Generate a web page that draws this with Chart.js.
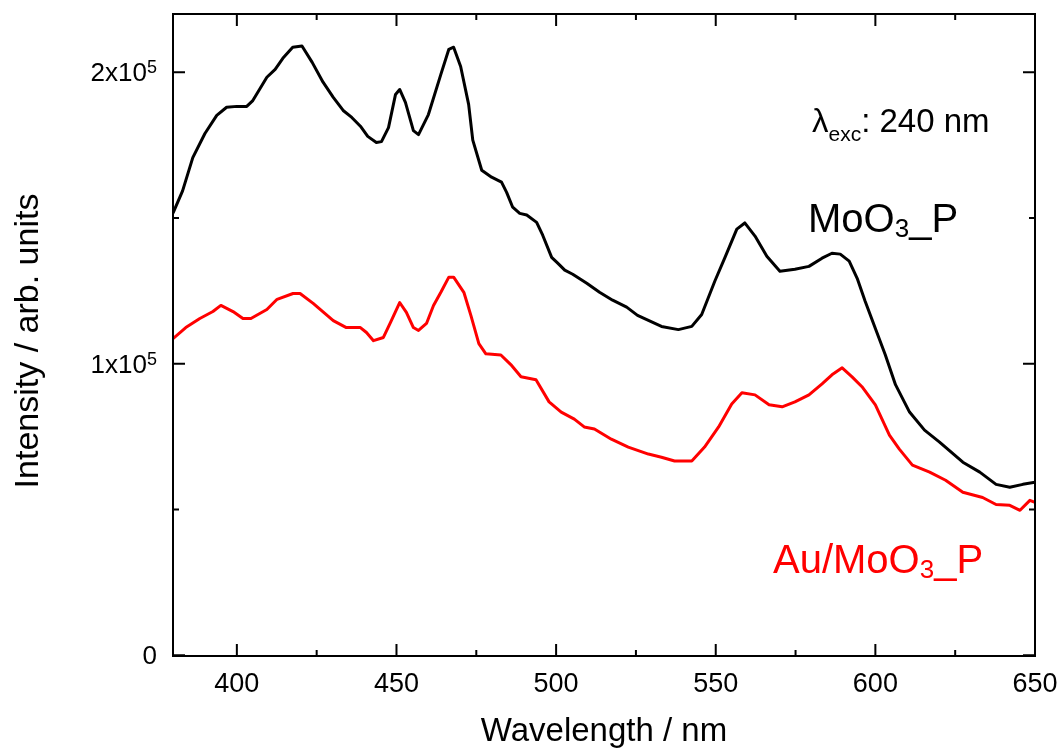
<!DOCTYPE html>
<html>
<head>
<meta charset="utf-8">
<script src="https://cdn.jsdelivr.net/npm/chart.js@4"></script>
<style>
  body { margin: 0; background: #fff; }
  canvas { display: block; }
</style>
</head>
<body>
<canvas id="myChart" width="1062" height="753"></canvas>
<script>
// MoO3_P (black)
const wlMoO3 = [380, 383, 386.2, 390, 393.7, 396.8, 400, 403.1, 405, 409.4, 412, 414.4, 417.5, 420.4, 423.6, 427, 430.2, 433.3, 436, 438.7, 441, 443.7, 445.3, 447.5, 449.7, 451, 452.8, 455.3, 456.9, 460, 463.9, 466.4, 467.9, 470.1, 472.6, 473.9, 476.7, 479.8, 482.9, 484.5, 486.4, 488.6, 490.8, 493.9, 495.8, 498.6, 500.5, 502.7, 505.2, 509.6, 513.6, 517.7, 522.1, 525.5, 533, 538.3, 542.5, 545.6, 549.7, 552.8, 556.6, 559.1, 562.3, 566, 570.1, 574.8, 579.2, 583.3, 586.4, 589, 591.8, 594.3, 596.8, 600, 603.1, 606.3, 610.7, 615.4, 620.1, 627.4, 632.7, 637.8, 642.1, 646.2, 650];
const intMoO3 = [151.7, 159.3, 170.7, 179, 185.2, 188.0, 188.3, 188.3, 190.3, 198.3, 201, 204.8, 208.6, 209, 203.4, 196.6, 191.4, 186.9, 184.5, 181.5, 178, 175.9, 176.2, 181, 192.4, 194.1, 189.7, 180, 178.6, 185.5, 199.3, 207.9, 208.6, 202, 189, 176.7, 166.4, 164, 162.3, 158.8, 153.7, 151.6, 151, 148.5, 144.1, 136.5, 134.5, 132.1, 130.7, 127.6, 124.5, 121.8, 119.4, 116.6, 112.8, 111.7, 112.8, 116.9, 128.3, 136.2, 146.2, 148.3, 143.8, 136.9, 131.7, 132.4, 133.4, 136.2, 137.9, 137.6, 135.2, 129.3, 121.4, 112.1, 103.1, 92.8, 83.4, 77.2, 73.1, 66.2, 62.8, 58.6, 57.6, 58.6, 59.3];

// Au/MoO3_P (red)
const wlAu = [380, 384, 388.4, 392.5, 395, 398.8, 401.9, 404.4, 409.4, 412.6, 417.6, 419.8, 423.9, 430.2, 434.3, 438.7, 440.6, 442.8, 445.9, 448.1, 451, 453.1, 455.3, 456.9, 459.4, 461.6, 463.9, 466.4, 467.9, 471.1, 473.3, 475.8, 478, 482.7, 485.8, 489, 493.7, 497.8, 501.6, 505.7, 508.8, 512, 517.3, 522.6, 528.9, 533, 537.1, 542.5, 546.5, 550.9, 555, 558.2, 562.3, 566.7, 570.8, 574.8, 579.2, 583.3, 586.4, 589.6, 592.7, 595.8, 600, 604.4, 607.5, 611.6, 617, 622, 627.4, 633.6, 637.8, 642.1, 645.3, 648.4, 650];
const intAu = [108.6, 112.4, 115.5, 117.9, 120, 117.9, 115.5, 115.5, 118.6, 122.1, 124.1, 124.1, 120.7, 114.8, 112.4, 112.4, 110.7, 107.9, 109, 114.1, 121, 117.6, 112.4, 111.4, 113.8, 120, 124.5, 129.7, 129.7, 124.5, 116.6, 106.9, 103.4, 103, 99.7, 95.5, 94.5, 86.9, 83.4, 81, 78.3, 77.6, 74.1, 71.4, 69, 67.9, 66.6, 66.6, 71.4, 78.3, 86.2, 90, 89.3, 85.9, 85.2, 86.9, 89.3, 93.1, 96.2, 98.6, 95.5, 92.1, 85.9, 75.5, 70.7, 65.2, 62.8, 60, 55.9, 54.1, 51.7, 51.4, 49.7, 53.1, 52.4];

const xTicks = [400, 450, 500, 550, 600, 650];
const xMinorTicks = [425, 475, 525, 575, 625];
const yTicks = [0, 100000, 200000];
const yTickLabels = ["0", "1x10^5", "2x10^5"];
const yMinorTicks = [50000, 150000];

const FONT = "'Liberation Sans', Arial, sans-serif";

function toPoints(xs, ys) {
  return xs.map((x, i) => ({ x: x, y: ys[i] * 1000 }));
}

// text with sub/superscript parts: [[text, size, dy], ...]
function drawParts(c, parts, x, y, color) {
  c.fillStyle = color;
  c.textAlign = "left";
  c.textBaseline = "alphabetic";
  let cx = x;
  parts.forEach(p => {
    c.font = p[1] + "px " + FONT;
    c.fillText(p[0], cx, y + p[2]);
    cx += c.measureText(p[0]).width;
  });
}

const framePlugin = {
  id: "frame",
  afterDraw(chart) {
    const c = chart.ctx;
    const a = chart.chartArea;
    const xs = chart.scales.x;
    const ys = chart.scales.y;
    c.save();
    c.strokeStyle = "#000";
    c.lineWidth = 2;
    c.strokeRect(a.left, a.top, a.right - a.left, a.bottom - a.top);

    // inward ticks on all four sides
    c.beginPath();
    const tick = (vals, len) => {
      vals.forEach(v => {
        const px = xs.getPixelForValue(v);
        c.moveTo(px, a.bottom); c.lineTo(px, a.bottom - len);
        c.moveTo(px, a.top); c.lineTo(px, a.top + len);
      });
    };
    const ytick = (vals, len) => {
      vals.forEach(v => {
        const py = ys.getPixelForValue(v);
        c.moveTo(a.left, py); c.lineTo(a.left + len, py);
        c.moveTo(a.right, py); c.lineTo(a.right - len, py);
      });
    };
    tick(xTicks, 12); tick(xMinorTicks, 6);
    ytick(yTicks, 12); ytick(yMinorTicks, 6);
    c.stroke();

    // x tick labels
    c.fillStyle = "#000";
    c.font = "27px " + FONT;
    c.textAlign = "center";
    c.textBaseline = "alphabetic";
    xTicks.forEach(v => c.fillText(String(v), xs.getPixelForValue(v), 692));

    // y tick labels with superscript
    yTicks.forEach((v, i) => {
      const py = ys.getPixelForValue(v);
      const sp = yTickLabels[i].split("^");
      c.font = "26px " + FONT;
      const w1 = c.measureText(sp[0]).width;
      let w2 = 0;
      if (sp[1]) { c.font = "18px " + FONT; w2 = c.measureText(sp[1]).width; }
      const parts = [[sp[0], 26, 0]];
      if (sp[1]) parts.push([sp[1], 18, -8]);
      drawParts(c, parts, 157 - w1 - w2, py + 9, "#000");
    });

    // axis titles
    c.fillStyle = "#000";
    c.font = "33px " + FONT;
    c.textAlign = "center";
    c.fillText("Wavelength / nm", (a.left + a.right) / 2, 741);
    c.save();
    c.translate(38, 341);
    c.rotate(-Math.PI / 2);
    c.font = "34px " + FONT;
    c.fillText("Intensity / arb. units", 0, 0);
    c.restore();

    // annotations
    drawParts(c, [["\u03bb", 33, 0], ["exc", 21, 9], [": 240 nm", 33, 0]], 812, 132, "#000");
    drawParts(c, [["MoO", 40, 0], ["3", 26, 5], ["_P", 40, 0]], 808, 232, "#000");
    drawParts(c, [["Au/MoO", 40, 0], ["3", 26, 5], ["_P", 40, 0]], 773, 573, "#ff0000");
    c.restore();
  }
};

const ctx = document.getElementById("myChart").getContext("2d");

const spectraChart = new Chart(ctx, {
  type: "line",
  data: {
    datasets: [
      {
        label: "MoO3_P",
        data: toPoints(wlMoO3, intMoO3),
        borderColor: "#000000",
        borderWidth: 3,
        borderJoinStyle: "round",
        pointRadius: 0,
        tension: 0,
        fill: false,
      },
      {
        label: "Au/MoO3_P",
        data: toPoints(wlAu, intAu),
        borderColor: "#ff0000",
        borderWidth: 3,
        borderJoinStyle: "round",
        pointRadius: 0,
        tension: 0,
        fill: false,
      },
    ],
  },
  options: {
    responsive: false,
    animation: false,
    layout: { padding: { left: 173, right: 27, top: 14, bottom: 97 } },
    plugins: { legend: { display: false }, tooltip: { enabled: false } },
    scales: {
      x: { type: "linear", min: 380, max: 650, display: false },
      y: { type: "linear", min: -300, max: 220000, display: false },
    },
  },
  plugins: [framePlugin],
});
</script>
</body>
</html>
